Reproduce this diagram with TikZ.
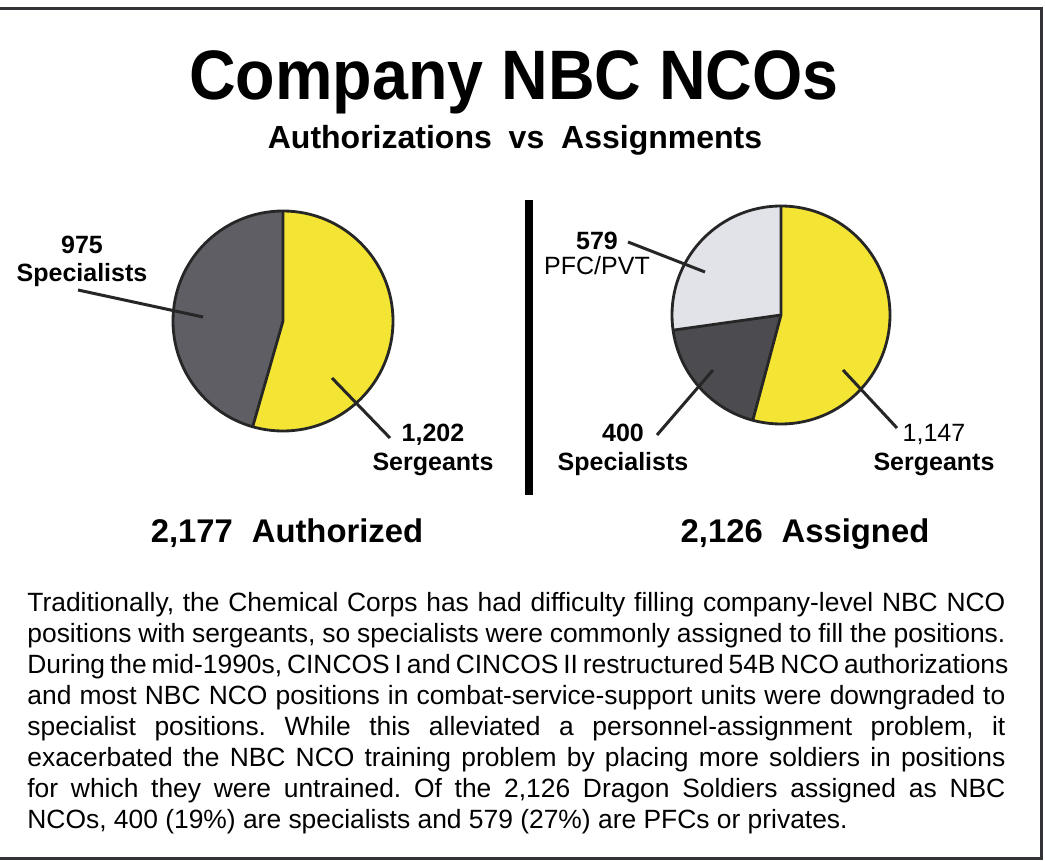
\documentclass[tikz,border=0pt]{standalone}
\usepackage{fontspec}
\setmainfont{Liberation Sans}
\usepackage{graphicx}
\frenchspacing
\definecolor{sgtyellow}{RGB}{244,229,52}
\definecolor{specgrayL}{RGB}{94,94,100}
\definecolor{specgrayR}{RGB}{75,75,80}
\definecolor{pfcgray}{RGB}{226,227,232}
\definecolor{inkline}{RGB}{38,38,38}
\definecolor{framecol}{RGB}{50,50,55}
\begin{document}
\begin{tikzpicture}[x=0.5pt,y=0.5pt,
  pieline/.style={draw=inkline,line width=1.4pt,line join=round},
  leader/.style={draw=inkline,line width=1.5pt},
  lbl/.style={anchor=base,align=center,inner sep=0pt,font=\fontsize{12.5}{14.25}\selectfont\bfseries},
  total/.style={anchor=base,inner sep=0pt,font=\fontsize{16.4}{20}\selectfont\bfseries}]
\clip (0,0) rectangle (1045,-861);
\useasboundingbox (0,0) rectangle (1045,-861);
\fill[white] (0,0) rectangle (1045,-861);
% frame
\draw[framecol,line width=1.5pt] (-10,-9) rectangle (1041,-858);
% titles
\node[anchor=base,inner sep=0pt,font=\fontsize{35}{40}\selectfont\bfseries] (title) at (514,-100) {\scalebox{0.923}[1]{Company NBC NCOs}};
\node[anchor=base,inner sep=0pt,font=\fontsize{16}{19}\selectfont\bfseries] (sub) at (515,-149) {Authorizations\hspace{0.25em} vs\hspace{0.25em} Assignments};
% left pie
\coordinate (L) at (283,-321);
\coordinate (Ltop) at ([shift={(90:110)}]L);
\coordinate (Lbot) at ([shift={(-106:110)}]L);
\fill[sgtyellow] (L) -- (Ltop) arc[start angle=90,end angle=-106,radius=110] -- cycle;
\fill[specgrayL] (L) -- (Lbot) arc[start angle=-106,end angle=-270,radius=110] -- cycle;
\draw[pieline] (L) circle[radius=110];
\draw[pieline] (Ltop) -- (L) -- (Lbot);
% right pie
\coordinate (R) at (781,-315);
\coordinate (Rtop) at ([shift={(90:109)}]R);
\coordinate (Rbot) at ([shift={(-105:109)}]R);
\coordinate (Rleft) at ([shift={(-172:109)}]R);
\fill[sgtyellow] (R) -- (Rtop) arc[start angle=90,end angle=-105,radius=109] -- cycle;
\fill[specgrayR] (R) -- (Rbot) arc[start angle=-105,end angle=-172,radius=109] -- cycle;
\fill[pfcgray] (R) -- (Rleft) arc[start angle=-172,end angle=-270,radius=109] -- cycle;
\draw[pieline] (R) circle[radius=109];
\draw[pieline] (Rtop) -- (R) -- (Rbot);
\draw[pieline] (R) -- (Rleft);
% divider
\fill[black] (525,-200) rectangle (533,-495);
% labels (anchor = baseline of last line)
\node[lbl] (lspec) at (82,-282) {975\\Specialists};
\node[lbl] (lsgt) at (433,-470) {1,202\\Sergeants};
\node[lbl] (rpfc) at (597,-275) {579\\[-1.5pt]{\mdseries PFC/PVT}};
\node[lbl] (rspec) at (623,-470) {400\\Specialists};
\node[lbl] (rsgt) at (934,-470) {{\mdseries 1,147}\\Sergeants};
% leader lines
\coordinate (lspecA) at (78,-290);  \coordinate (lspecB) at (203,-317);
\coordinate (lsgtA) at (390,-438);  \coordinate (lsgtB) at (332,-378);
\coordinate (rpfcA) at (628,-242);  \coordinate (rpfcB) at (705,-272);
\coordinate (rspecA) at (657,-435); \coordinate (rspecB) at (713,-370);
\coordinate (rsgtA) at (897,-428);  \coordinate (rsgtB) at (843,-370);
\draw[leader] (lspecA) -- (lspecB);
\draw[leader] (lsgtA) -- (lsgtB);
\draw[leader] (rpfcA) -- (rpfcB);
\draw[leader] (rspecA) -- (rspecB);
\draw[leader] (rsgtA) -- (rsgtB);
% totals
\node[total] (auth) at (287,-542) {2,177\hspace{0.3em} Authorized};
\node[total] (asgn) at (805,-542) {2,126\hspace{0.3em} Assigned};
% body text (anchor = baseline of last line)
\node[anchor=base west,align=left,inner sep=0pt,font=\fontsize{13.2}{15.45}\selectfont] (body) at (27,-828) {%
\makebox[489pt][s]{Traditionally, the Chemical Corps has had difficulty filling company-level NBC NCO}\\
\makebox[489pt][s]{positions with sergeants, so specialists were commonly assigned to fill the positions.}\\
\makebox[489pt][s]{During the mid-1990s, CINCOS I and CINCOS II restructured 54B NCO authorizations}\\
\makebox[489pt][s]{and most NBC NCO positions in combat-service-support units were downgraded to}\\
\makebox[489pt][s]{specialist positions. While this alleviated a personnel-assignment problem, it}\\
\makebox[489pt][s]{exacerbated the NBC NCO training problem by placing more soldiers in positions}\\
\makebox[489pt][s]{for which they were untrained. Of the 2,126 Dragon Soldiers assigned as NBC}\\
NCOs, 400 (19\%) are specialists and 579 (27\%) are PFCs or privates.};
\end{tikzpicture}
\end{document}
